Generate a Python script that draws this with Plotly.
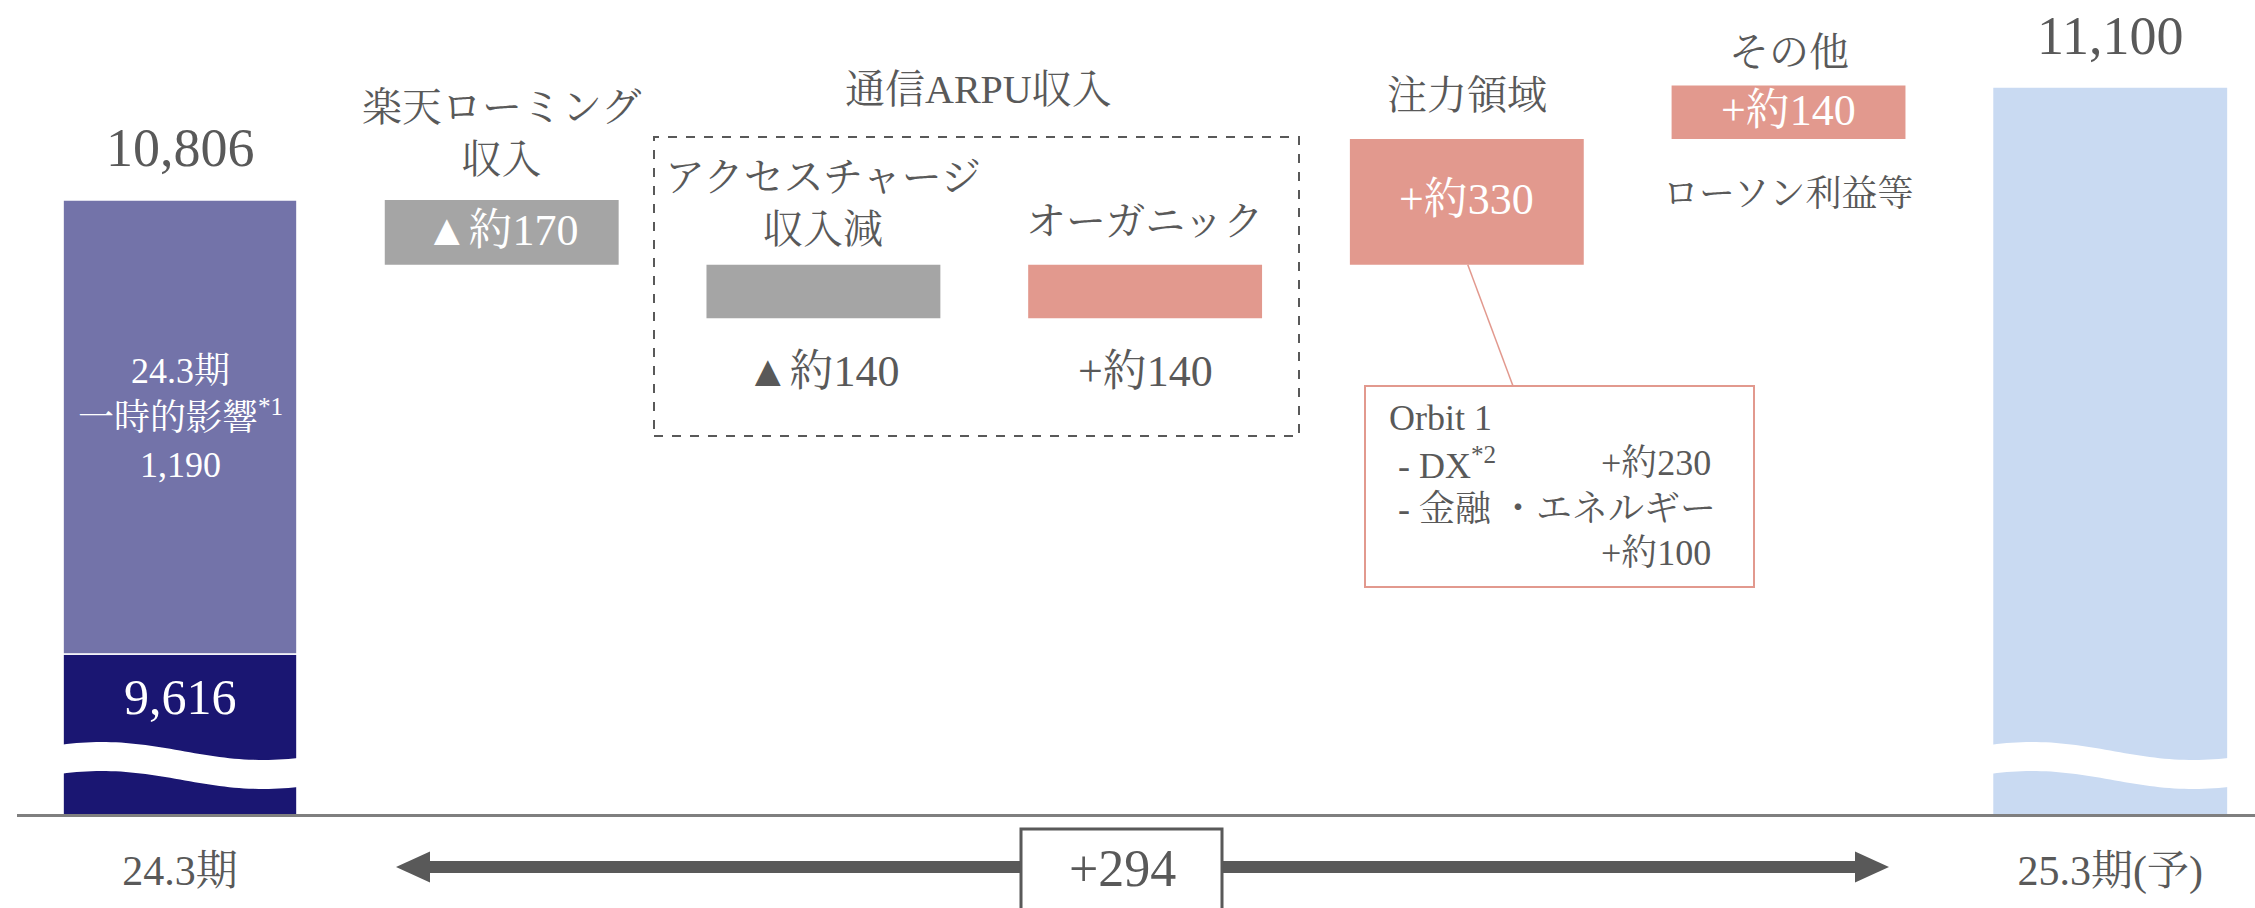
import numpy as np
import plotly.graph_objects as go

# ---------------- data ----------------
categories = ["24.3期", "楽天ローミング収入", "アクセスチャージ収入減", "オーガニック", "注力領域", "その他", "25.3期(予)"]
step_titles = ["楽天ローミング<br>収入", "アクセスチャージ<br>収入減", "オーガニック", "注力領域", "その他"]
step_values = [-170, -140, 140, 330, 140]
prev_core = 9616
prev_onetime = 1190
prev_total = 10806
next_total = 11100
group_title = "通信ARPU収入"
other_note = "ローソン利益等"
orbit_title = "Orbit 1"
orbit_items = ["DX<sup>*2</sup>", "金融 ・エネルギー"]
orbit_values = [230, 100]
onetime_title = "24.3期<br>一時的影響<sup>*1</sup>"

# ---------------- style ----------------
W, H = 2255, 908
M_L, M_B = 17, 94
PLOT_H = H - M_B
K = 0.38151                      # px per value unit on the (broken) y axis
Y_MIN = 9196.6
Y_MAX = Y_MIN + PLOT_H / K
X_RANGE = [-0.5067, 6.450]
BAR_W = 0.727

FONT = "Liberation Serif, Noto Serif CJK JP, Noto Sans CJK JP, serif"
TXT = "#595959"
DARK = "#1a1672"
LIGHT = "#7373a9"
GREY = "#a5a5a5"
PINK = "#e2998e"
BLUE = "#c9daf2"


def px2val(p):
    return Y_MIN + (PLOT_H - p) / K


def px2paper(p):
    return (PLOT_H - p) / PLOT_H


def px2x(p):
    return X_RANGE[0] + (p - M_L) / (W - M_L) * (X_RANGE[1] - X_RANGE[0])


def fmt_step(v):
    return ("▲約" if v < 0 else "+約") + str(abs(v))


# cumulative bases of the bridge steps
bases = []
run = prev_total
for v in step_values:
    bases.append(run)
    run += v
step_x = list(range(1, len(step_values) + 1))
step_colors = [GREY if v < 0 else PINK for v in step_values]

fig = go.Figure()
fig.add_trace(go.Bar(x=[0], y=[prev_core], base=[0], width=BAR_W,
                     marker=dict(color=DARK, line=dict(color="white", width=1.5)),
                     hoverinfo="skip"))
fig.add_trace(go.Bar(x=[0], y=[prev_onetime], base=[prev_core], width=BAR_W,
                     marker=dict(color=LIGHT, line=dict(color="white", width=1.5)),
                     hoverinfo="skip"))
fig.add_trace(go.Bar(x=step_x, y=step_values, base=bases, width=BAR_W,
                     marker=dict(color=step_colors, line=dict(width=0)),
                     hoverinfo="skip"))
fig.add_trace(go.Bar(x=[6], y=[next_total], base=[0], width=BAR_W,
                     marker=dict(color=BLUE, line=dict(width=0)),
                     hoverinfo="skip"))

shapes = []


def wave(xc):
    half = BAR_W / 2 + 0.004
    ts = np.linspace(0, 1, 49)
    theta = np.pi / 2 + (ts - 0.17) * np.pi / 0.68
    up = 751 - 9 * np.sin(theta)
    lo = up + 29
    xs = xc - half + ts * 2 * half
    pts = [f"{x:.4f},{px2val(p):.2f}" for x, p in zip(xs, up)]
    pts += [f"{x:.4f},{px2val(p):.2f}" for x, p in zip(xs[::-1], lo[::-1])]
    return dict(type="path", xref="x", yref="y", path="M " + " L ".join(pts) + " Z",
                fillcolor="white", line=dict(width=0), layer="above")


shapes.append(wave(0))
shapes.append(wave(6))

# dashed group box around ARPU steps
shapes.append(dict(type="rect", xref="x", yref="y",
                   x0=px2x(654), x1=px2x(1299), y0=px2val(436), y1=px2val(137),
                   line=dict(color=TXT, width=2, dash="dash"), fillcolor="rgba(0,0,0,0)"))

# connector + Orbit box
focus_i = 3
shapes.append(dict(type="line", xref="x", yref="y",
                   x0=step_x[focus_i] + 0.003, y0=bases[focus_i],
                   x1=px2x(1513), y1=px2val(386),
                   line=dict(color=PINK, width=1.5)))
shapes.append(dict(type="rect", xref="x", yref="y",
                   x0=px2x(1365), x1=px2x(1754), y0=px2val(587), y1=px2val(386),
                   line=dict(color=PINK, width=2), fillcolor="white"))

# bottom double arrow and +294 box
ay = px2paper(867)
hh = 15.5 / PLOT_H
shapes.append(dict(type="line", xref="x", yref="paper",
                   x0=px2x(425), x1=px2x(1860), y0=ay, y1=ay,
                   line=dict(color=TXT, width=12)))
shapes.append(dict(type="path", xref="x", yref="paper",
                   path=f"M {px2x(396)},{ay} L {px2x(430)},{ay + hh} L {px2x(430)},{ay - hh} Z",
                   fillcolor=TXT, line=dict(width=0)))
shapes.append(dict(type="path", xref="x", yref="paper",
                   path=f"M {px2x(1889)},{ay} L {px2x(1855)},{ay + hh} L {px2x(1855)},{ay - hh} Z",
                   fillcolor=TXT, line=dict(width=0)))
shapes.append(dict(type="rect", xref="x", yref="paper",
                   x0=px2x(1021), x1=px2x(1222), y0=px2paper(829), y1=px2paper(940),
                   line=dict(color=TXT, width=3), fillcolor="white"))

ann = []


def A(text, x, y, size, color=TXT, xanchor="center", yanchor="middle", yshift=0, xref="x", yref="y"):
    ann.append(dict(text=text, x=x, y=y, xref=xref, yref=yref, showarrow=False,
                    xanchor=xanchor, yanchor=yanchor, yshift=yshift,
                    font=dict(family=FONT, size=size, color=color)))


# totals
A(f"{prev_total:,}", 0, prev_total, 54, yshift=52)
A(f"{next_total:,}", 6, next_total, 54, yshift=52)
A(f"{prev_core:,}", 0, prev_core, 50, color="white", yshift=-43)
A(onetime_title + f"<br>{prev_onetime:,}", 0, prev_core + prev_onetime / 2, 36, color="white", yshift=9)

# step titles / values
tops = [max(b, b + v) for b, v in zip(bases, step_values)]
bots = [min(b, b + v) for b, v in zip(bases, step_values)]
title_shift = [67, 61, 43, 43, 33]
for i, (t, v) in enumerate(zip(step_titles, step_values)):
    A(t, step_x[i], tops[i], 40, yshift=title_shift[i])
# values inside boxes (tall enough) or below
inside = [True, False, False, True, True]
for i, v in enumerate(step_values):
    if inside[i]:
        A(fmt_step(v), step_x[i], (tops[i] + bots[i]) / 2, 44, color="white", yshift=2)
    else:
        A(fmt_step(v), step_x[i], bots[i], 44, yshift=-53)

A(group_title, px2x(978), px2val(89), 40)
A(other_note, step_x[4], bots[4], 36, yshift=-55)

# Orbit breakdown text
A(orbit_title, px2x(1387), px2val(418), 36, xanchor="left")
A(" - " + orbit_items[0], px2x(1387), px2val(463), 36, xanchor="left")
A(f"+約{orbit_values[0]}", px2x(1713), px2val(463), 36, xanchor="right")
A(" - " + orbit_items[1], px2x(1387), px2val(509), 36, xanchor="left")
A(f"+約{orbit_values[1]}", px2x(1713), px2val(553), 36, xanchor="right")

# total change in the box on the arrow
A(f"+{next_total - prev_total}", px2x(1122), px2paper(868), 52, yref="paper")

fig.update_layout(
    width=W, height=H,
    margin=dict(l=M_L, r=0, t=0, b=M_B, pad=0),
    paper_bgcolor="white", plot_bgcolor="white",
    barmode="overlay", showlegend=False,
    shapes=shapes, annotations=ann,
    xaxis=dict(range=X_RANGE, showgrid=False, zeroline=False,
               showline=True, linecolor="#7f7f7f", linewidth=3,
               tickmode="array", tickvals=[0, 6], ticktext=[categories[0], categories[6]],
               ticks="", ticklabelstandoff=18,
               tickfont=dict(family=FONT, size=42, color=TXT), fixedrange=True),
    yaxis=dict(range=[Y_MIN, Y_MAX], visible=False, fixedrange=True),
    font=dict(family=FONT, color=TXT),
)

fig.write_html("out.html",
               config={"displayModeBar": False, "staticPlot": True},
               post_script="document.body.style.margin='0';document.body.style.overflow='hidden';")
